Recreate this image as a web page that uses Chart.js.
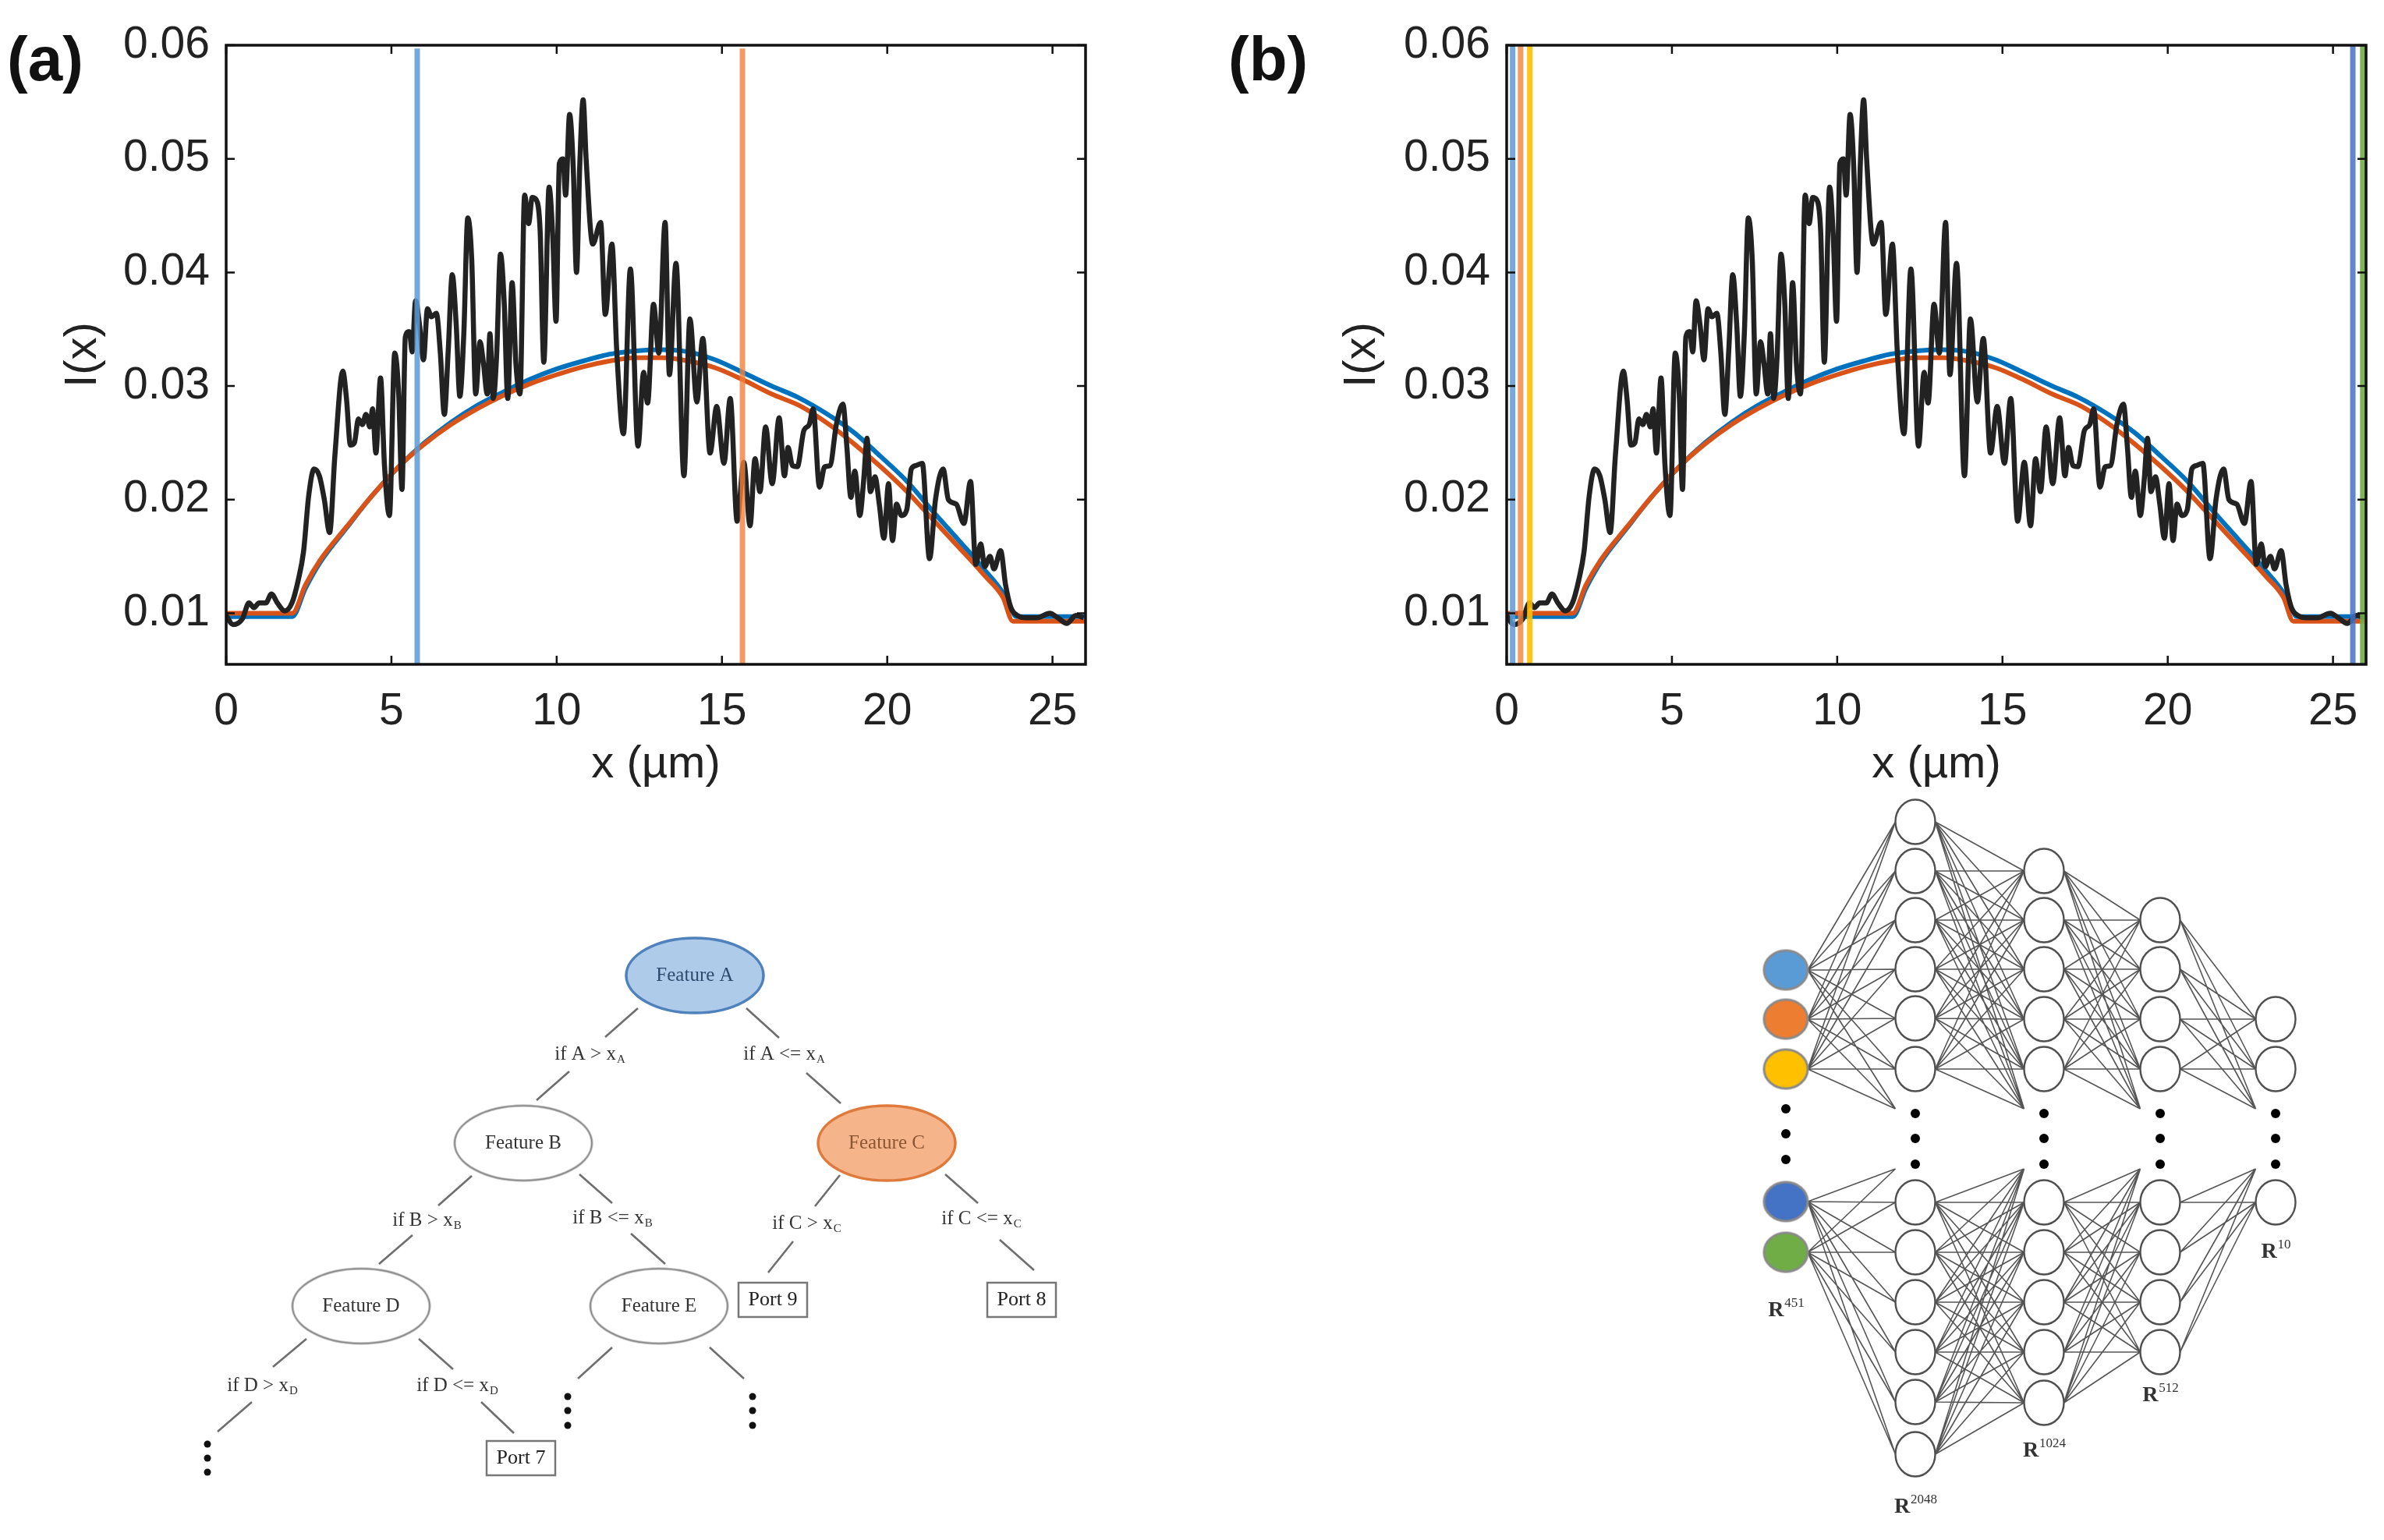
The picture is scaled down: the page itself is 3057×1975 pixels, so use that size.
<!DOCTYPE html>
<html>
<head>
<meta charset="utf-8">
<script src="https://cdn.jsdelivr.net/npm/chart.js@4.4.1/dist/chart.umd.min.js"></script>
<style>
body { margin: 0; background: #fff; width: 3057px; height: 1975px; position: relative; overflow: hidden; font-family: 'Liberation Sans', Arial, sans-serif; }
.wrap { position: absolute; }
.panel-label { position: absolute; font-weight: bold; font-size: 80px; line-height: 1; color: #111; }
</style>
</head>
<body>
<div class="panel-label" style="left:9px;top:36px">(a)</div>
<div class="panel-label" style="left:1575px;top:36px">(b)</div>
<div class="wrap" style="left:62px;top:0"><canvas id="chartA" width="1360" height="1020"></canvas></div>
<div class="wrap" style="left:1702px;top:0"><canvas id="chartB" width="1355" height="1020"></canvas></div>
<div class="wrap" style="left:0;top:1015px"><canvas id="diagram" width="3057" height="960"></canvas></div>
<script>
// ---- intensity profile I(x) ----
var xTicks = [0, 5, 10, 15, 20, 25];
var yTicks = [0.01, 0.02, 0.03, 0.04, 0.05, 0.06];

var measX = [0, 0.21, 0.49, 0.69, 0.84, 1.0, 1.2, 1.37, 1.55, 1.77, 1.99, 2.18, 2.34, 2.5, 2.66, 2.82, 2.97, 3.13, 3.29, 3.53,
  3.64, 3.76, 3.88, 4.0, 4.12, 4.23, 4.35, 4.43, 4.53, 4.67, 4.79, 4.94, 5.1, 5.22, 5.32, 5.42, 5.54, 5.63, 5.73, 5.85,
  5.97, 6.09, 6.21, 6.36, 6.48, 6.6, 6.72, 6.84, 6.96, 7.07, 7.19, 7.31, 7.43, 7.55, 7.68, 7.78, 7.9, 7.98, 8.08, 8.18,
  8.3, 8.41, 8.52, 8.65, 8.77, 8.89, 9.03, 9.15, 9.26, 9.38, 9.5, 9.61, 9.77, 9.88, 9.98, 10.08, 10.19, 10.27, 10.39, 10.5,
  10.6, 10.7, 10.8, 10.89, 11.09, 11.33, 11.47, 11.67, 11.82, 12.02, 12.23, 12.46, 12.63, 12.75, 12.93, 13.09, 13.28, 13.41, 13.61, 13.85,
  14.03, 14.24, 14.42, 14.64, 14.84, 15.06, 15.25, 15.46, 15.66, 15.85, 16.0, 16.15, 16.32, 16.52, 16.73, 16.89, 17.0,
  17.13, 17.28, 17.48, 17.64, 17.76, 17.95, 18.11, 18.27, 18.46, 18.66, 18.78, 18.9, 19.02, 19.17, 19.29, 19.39, 19.49, 19.63, 19.76, 19.9,
  20.04, 20.16, 20.28, 20.43, 20.59, 20.73, 20.87, 21.06, 21.28, 21.46, 21.69, 21.85, 22.09, 22.32, 22.52, 22.68, 22.83, 22.95, 23.11, 23.23,
  23.43, 23.58, 23.74, 23.94, 24.21, 24.53, 24.92, 25.16, 25.43, 25.71, 25.94];
var measY = [0.0098, 0.0090, 0.0095, 0.0109, 0.0105, 0.0109, 0.0109, 0.0117, 0.0109, 0.0102, 0.0109, 0.0129, 0.0154, 0.0204, 0.0227, 0.0221, 0.0200, 0.0171, 0.0239, 0.0313,
  0.0289, 0.0248, 0.0250, 0.0271, 0.0266, 0.0275, 0.0264, 0.0280, 0.0241, 0.0307, 0.0230, 0.0186, 0.0329, 0.0293, 0.0209, 0.0343, 0.0348, 0.0330, 0.0375, 0.0354,
  0.0323, 0.0368, 0.0361, 0.0364, 0.0329, 0.0275, 0.0332, 0.0398, 0.0354, 0.0291, 0.0346, 0.0448, 0.0411, 0.0293, 0.0339, 0.0321, 0.0293, 0.0346, 0.0289, 0.0325,
  0.0416, 0.0375, 0.0289, 0.0391, 0.0318, 0.0293, 0.0468, 0.0443, 0.0466, 0.0464, 0.0436, 0.0321, 0.0475, 0.0432, 0.0357, 0.0496, 0.0500, 0.0468, 0.0539, 0.0493,
  0.0400, 0.0496, 0.0552, 0.0500, 0.0425, 0.0444, 0.0363, 0.0425, 0.0329, 0.0258, 0.0403, 0.0247, 0.0312, 0.0285, 0.0372, 0.0329, 0.0444, 0.0310, 0.0408, 0.0221,
  0.0359, 0.0286, 0.0342, 0.0241, 0.0282, 0.0232, 0.0289, 0.0181, 0.0233, 0.0177, 0.0236, 0.0207, 0.0264, 0.0214, 0.0272, 0.0221, 0.0246,
  0.0230, 0.0229, 0.0261, 0.0266, 0.0280, 0.0211, 0.0229, 0.0230, 0.0266, 0.0284, 0.0246, 0.0202, 0.0225, 0.0186, 0.0218, 0.0254, 0.0207, 0.0220, 0.0196, 0.0166,
  0.0214, 0.0164, 0.0196, 0.0186, 0.0191, 0.0227, 0.0230, 0.0232, 0.0148, 0.0200, 0.0227, 0.0200, 0.0196, 0.0179, 0.0216, 0.0143, 0.0161, 0.0141, 0.0150, 0.0139,
  0.0155, 0.0125, 0.0105, 0.0098, 0.0096, 0.0096, 0.0100, 0.0096, 0.0091, 0.0098, 0.0096];

var fitBlueX = [0, 1, 2.0, 2.4, 2.85, 3.64, 4.43, 5.22, 6.0, 6.8, 7.6, 8.4, 9.2, 10.0, 10.8, 11.6, 12.4, 13.2, 14.0, 14.8,
  15.7, 16.5, 17.3, 18.2, 19.0, 19.8, 20.6, 21.4, 22.2, 22.95, 23.5, 23.75, 23.9, 26];
var fitBlueY = [0.0097, 0.0097, 0.0097, 0.0122, 0.0145, 0.0175, 0.0204, 0.0229, 0.0250, 0.0268, 0.0283, 0.0295, 0.0306, 0.0315, 0.0322, 0.0328, 0.0331, 0.0332, 0.0330, 0.0323,
  0.0311, 0.0300, 0.0290, 0.0275, 0.0259, 0.0238, 0.0216, 0.0189, 0.0163, 0.0138, 0.0118, 0.0104, 0.0097, 0.0097];
var fitOrangeX = [0, 1, 2.0, 2.4, 2.85, 3.64, 4.43, 5.22, 6.0, 6.8, 7.6, 8.4, 9.2, 10.0, 10.8, 11.6, 12.4, 13.2, 14.0, 14.8,
  15.6, 16.5, 17.4, 18.2, 19.0, 19.8, 20.6, 21.4, 22.2, 22.95, 23.5, 23.8, 26];
var fitOrangeY = [0.0100, 0.0100, 0.0100, 0.0125, 0.0147, 0.0176, 0.0204, 0.0229, 0.0249, 0.0266, 0.0280, 0.0292, 0.0302, 0.0310, 0.0317, 0.0322, 0.0325, 0.0325, 0.0322, 0.0316,
  0.0306, 0.0293, 0.0282, 0.0267, 0.0249, 0.0229, 0.0207, 0.0182, 0.0157, 0.0133, 0.0114, 0.0093, 0.0093];

// selected features (vertical markers)
var featuresA = [5.78, 15.62];
var featuresB = [0.18, 0.42, 0.7, 25.6, 25.9];
var colorsA = ['rgba(91,155,213,0.85)', 'rgba(240,130,60,0.8)'];
var colorsB = ['rgba(91,155,213,0.85)', 'rgba(240,130,60,0.8)', 'rgba(255,192,0,0.9)', 'rgba(68,114,196,0.85)', 'rgba(112,173,71,0.9)'];

Chart.defaults.font.family = "'Liberation Sans', Arial, sans-serif";
Chart.defaults.color = '#222';

function toPoints(xs, ys) {
    return xs.map(function(x, i) { return {x: x, y: ys[i]}; });
}

// MATLAB style box with inward ticks on all four sides
var boxTicks = {
    id: 'boxTicks',
    afterDatasetsDraw: function(chart) {
        var ctx = chart.ctx, a = chart.chartArea;
        var sx = chart.scales.x, sy = chart.scales.y;
        ctx.save();
        ctx.strokeStyle = '#111';
        ctx.lineWidth = 2.5;
        ctx.beginPath();
        sx.ticks.forEach(function(t) {
            var p = sx.getPixelForValue(t.value);
            ctx.moveTo(p, a.bottom); ctx.lineTo(p, a.bottom - 11);
            ctx.moveTo(p, a.top); ctx.lineTo(p, a.top + 11);
        });
        sy.ticks.forEach(function(t) {
            var p = sy.getPixelForValue(t.value);
            ctx.moveTo(a.left, p); ctx.lineTo(a.left + 11, p);
            ctx.moveTo(a.right, p); ctx.lineTo(a.right - 11, p);
        });
        ctx.stroke();
        ctx.lineWidth = 3.5;
        ctx.strokeRect(a.left, a.top, a.right - a.left, a.bottom - a.top);
        ctx.restore();
    }
};

function makeProfileChart(id, features, featureColors, featureTop, axisWidth, padRight) {
    var datasets = [];
    features.forEach(function(f, i) {
        datasets.push({
            data: [{x: f, y: featureTop}, {x: f, y: 0.0055}],
            borderColor: featureColors[i],
            borderWidth: 7,
            pointRadius: 0
        });
    });
    datasets.push({ data: toPoints(measX, measY), borderColor: '#222', borderWidth: 6.5, pointRadius: 0, cubicInterpolationMode: 'monotone' });
    datasets.push({ data: toPoints(fitOrangeX, fitOrangeY), borderColor: '#D95319', borderWidth: 6, pointRadius: 0, cubicInterpolationMode: 'monotone' });
    datasets.push({ data: toPoints(fitBlueX, fitBlueY), borderColor: '#0072BD', borderWidth: 6, pointRadius: 0, cubicInterpolationMode: 'monotone' });

    return new Chart(document.getElementById(id), {
        type: 'scatter',
        data: { datasets: datasets },
        options: {
            responsive: false,
            animation: false,
            events: [],
            showLine: true,
            layout: { autoPadding: false, padding: { top: 58, right: padRight, left: 0, bottom: 0 } },
            plugins: { legend: { display: false }, tooltip: { enabled: false } },
            scales: {
                x: {
                    type: 'linear', min: 0, max: 26,
                    grid: { display: false, drawTicks: false },
                    border: { display: false },
                    afterBuildTicks: function(s) { s.ticks = xTicks.map(function(v) { return {value: v}; }); },
                    afterFit: function(s) { s.height = 168; },
                    ticks: { font: { size: 57 }, color: '#222', padding: 27, maxRotation: 0, callback: function(v) { return v; } },
                    title: { display: true, text: 'x (µm)', font: { size: 58 }, color: '#222', padding: { top: 0, bottom: 4 } }
                },
                y: {
                    type: 'linear', min: 0.0055, max: 0.06,
                    grid: { display: false, drawTicks: false },
                    border: { display: false },
                    afterBuildTicks: function(s) { s.ticks = yTicks.map(function(v) { return {value: v}; }); },
                    afterFit: function(s) { s.width = axisWidth; },
                    ticks: { font: { size: 57 }, color: '#222', padding: 21, callback: function(v) { return v.toFixed(2); } },
                    title: { display: true, text: 'I(x)', font: { size: 58 }, color: '#222', padding: { top: 10, bottom: 0 } }
                }
            }
        },
        plugins: [boxTicks]
    });
}

makeProfileChart('chartA', featuresA, colorsA, 0.0597, 228, 30);
makeProfileChart('chartB', featuresB, colorsB, 0.06, 230, 23);

// ---- decision tree ----
var treeNodeText = ['Feature A', 'Feature B', 'Feature C', 'Feature D', 'Feature E'];
var treeNodeX = [891, 671, 1137, 463, 845];
var treeNodeY = [1251, 1466, 1466, 1675, 1675];
var treeNodeFill = ['#AECBEA', '#ffffff', '#F5B489', '#ffffff', '#ffffff'];
var treeNodeStroke = ['#4F81BD', '#888888', '#E07A3C', '#888888', '#888888'];
var treeNodeInk = ['#2D4B6E', '#333333', '#8A5634', '#333333', '#333333'];

var treePortText = ['Port 9', 'Port 8', 'Port 7'];
var treePortX = [991, 1310, 668];
var treePortY = [1667, 1667, 1870];

var treeRuleText = ['if A > x', 'if A <= x', 'if B > x', 'if B <= x', 'if C > x', 'if C <= x', 'if D > x', 'if D <= x'];
var treeRuleSub = ['A', 'A', 'B', 'B', 'C', 'C', 'D', 'D'];
var treeRuleX = [756, 1005, 547, 785, 1034, 1258, 336, 586];
var treeRuleY = [1352, 1352, 1565, 1562, 1569, 1563, 1777, 1777];

var treeEdges = [
    [818, 1293, 776, 1330], [730, 1374, 688, 1411], [957, 1293, 999, 1331], [1034, 1376, 1078, 1415],
    [605, 1508, 562, 1546], [529, 1584, 486, 1621], [743, 1506, 785, 1543], [809, 1582, 853, 1621],
    [1077, 1507, 1045, 1547], [1017, 1592, 985, 1632], [1212, 1506, 1254, 1543], [1282, 1590, 1326, 1629],
    [393, 1717, 350, 1753], [323, 1798, 279, 1836], [537, 1717, 581, 1756], [617, 1798, 659, 1838],
    [785, 1728, 741, 1768], [910, 1728, 954, 1768]
];
var treeDotX = [266, 266, 266, 728, 728, 728, 965, 965, 965];
var treeDotY = [1852, 1870, 1888, 1791, 1809, 1828, 1791, 1809, 1828];

// ---- neural network ----
var nnLayerX = [2290, 2456, 2621, 2770, 2918];
var nnUpper = [[1244, 1307, 1371], [1054, 1117, 1180, 1243, 1306, 1371], [1117, 1180, 1243, 1307, 1371], [1180, 1243, 1307, 1371], [1307, 1371]];
var nnLower = [[1541, 1606], [1542, 1606, 1670, 1734, 1798, 1865], [1542, 1606, 1670, 1734, 1799], [1542, 1606, 1670, 1734], [1542]];
var nnDotY = [[1422, 1454, 1487], [1428, 1460, 1493], [1428, 1460, 1493], [1428, 1460, 1493], [1428, 1460, 1493]];
var nnInputFill = ['#5B9BD5', '#ED7D31', '#FFC000', '#4472C4', '#70AD47'];
var nnDim = ['451', '2048', '1024', '512', '10'];
var nnDimY = [1681, 1933, 1861, 1790, 1606];

function ellipseImage(rx, ry, fill, stroke, lw) {
    var c = document.createElement('canvas');
    c.width = Math.ceil(2 * rx + lw + 2);
    c.height = Math.ceil(2 * ry + lw + 2);
    var g = c.getContext('2d');
    g.beginPath();
    g.ellipse(c.width / 2, c.height / 2, rx, ry, 0, 0, Math.PI * 2);
    g.fillStyle = fill;
    g.fill();
    g.lineWidth = lw;
    g.strokeStyle = stroke;
    g.stroke();
    return c;
}
function boxImage(w, h) {
    var c = document.createElement('canvas');
    c.width = w + 4; c.height = h + 4;
    var g = c.getContext('2d');
    g.fillStyle = '#fff';
    g.fillRect(2, 2, w, h);
    g.lineWidth = 2.5;
    g.strokeStyle = '#777';
    g.strokeRect(2, 2, w, h);
    return c;
}
function segmentsToPoints(segs) {
    var pts = [];
    segs.forEach(function(s) {
        pts.push({x: s[0], y: s[1]}, {x: s[2], y: s[3]}, {x: s[2], y: null});
    });
    return pts;
}

// edges between consecutive layers, upper block to upper block, lower to lower (+ links into the ellipsis)
var nnSegs = [];
for (var L = 0; L < nnLayerX.length - 1; L++) {
    var r0 = L === 0 ? 28 : 25.5;
    var x0 = nnLayerX[L] + r0, x1 = nnLayerX[L + 1] - 25.5;
    nnUpper[L].forEach(function(ya) {
        nnUpper[L + 1].concat([nnDotY[L + 1][0] - 6]).forEach(function(yb) { nnSegs.push([x0, ya, x1, yb]); });
    });
    nnLower[L].forEach(function(ya) {
        nnLower[L + 1].concat([nnDotY[L + 1][2] + 6]).forEach(function(yb) { nnSegs.push([x0, ya, x1, yb]); });
    });
}
var nnNodePts = [], nnDotPts = [];
for (var k = 1; k < nnLayerX.length; k++) {
    nnUpper[k].concat(nnLower[k]).forEach(function(y) { nnNodePts.push({x: nnLayerX[k], y: y}); });
}
nnLayerX.forEach(function(x, k) {
    nnDotY[k].forEach(function(y) { nnDotPts.push({x: x, y: y}); });
});
var nnInputPts = nnUpper[0].concat(nnLower[0]).map(function(y) { return {x: nnLayerX[0], y: y}; });

var treeNodeImgs = treeNodeFill.map(function(f, i) { return ellipseImage(88, 48, f, treeNodeStroke[i], i === 0 || i === 2 ? 3.5 : 2.5); });
var portImg = boxImage(88, 44);
var inputImgs = nnInputFill.map(function(f) { return ellipseImage(28, 25, f, '#8a8a8a', 3); });
var hiddenImg = ellipseImage(25.5, 28.5, '#ffffff', '#505050', 2.4);

var diagramText = {
    id: 'diagramText',
    afterDatasetsDraw: function(chart) {
        var ctx = chart.ctx, sx = chart.scales.x, sy = chart.scales.y;
        ctx.save();
        ctx.textBaseline = 'middle';
        ctx.textAlign = 'center';
        ctx.font = "25px 'Liberation Serif'";
        treeNodeText.forEach(function(t, i) {
            ctx.fillStyle = treeNodeInk[i];
            ctx.fillText(t, sx.getPixelForValue(treeNodeX[i]), sy.getPixelForValue(treeNodeY[i]));
        });
        ctx.font = "26px 'Liberation Serif'";
        ctx.fillStyle = '#222';
        treePortText.forEach(function(t, i) {
            ctx.fillText(t, sx.getPixelForValue(treePortX[i]), sy.getPixelForValue(treePortY[i]));
        });
        ctx.textAlign = 'left';
        treeRuleText.forEach(function(t, i) {
            ctx.font = "25px 'Liberation Serif'";
            var w1 = ctx.measureText(t).width;
            ctx.font = "15px 'Liberation Serif'";
            var w2 = ctx.measureText(treeRuleSub[i]).width;
            var x = sx.getPixelForValue(treeRuleX[i]) - (w1 + w2) / 2;
            var y = sy.getPixelForValue(treeRuleY[i]);
            ctx.fillStyle = '#333';
            ctx.font = "25px 'Liberation Serif'";
            ctx.fillText(t, x, y);
            ctx.font = "15px 'Liberation Serif'";
            ctx.fillText(treeRuleSub[i], x + w1 + 1, y + 7);
        });
        nnDim.forEach(function(d, i) {
            ctx.font = "bold 28px 'Liberation Serif'";
            var w1 = ctx.measureText('R').width;
            ctx.font = "17px 'Liberation Serif'";
            var w2 = ctx.measureText(d).width;
            var x = sx.getPixelForValue(nnLayerX[i]) - (w1 + w2) / 2;
            var y = sy.getPixelForValue(nnDimY[i]);
            ctx.fillStyle = '#333';
            ctx.font = "bold 28px 'Liberation Serif'";
            ctx.fillText('R', x, y);
            ctx.font = "17px 'Liberation Serif'";
            ctx.fillText(d, x + w1 + 1, y - 9);
        });
        ctx.restore();
    }
};

new Chart(document.getElementById('diagram'), {
    type: 'scatter',
    data: {
        datasets: [
            { data: toPoints(treeNodeX, treeNodeY), pointStyle: treeNodeImgs, pointRadius: 5 },
            { data: toPoints(treePortX, treePortY), pointStyle: portImg, pointRadius: 5 },
            { data: toPoints(treeDotX, treeDotY), pointStyle: 'circle', pointRadius: 4.5, backgroundColor: '#111', borderWidth: 0 },
            { data: segmentsToPoints(treeEdges), showLine: true, spanGaps: false, borderColor: '#6e6e6e', borderWidth: 2.6, pointRadius: 0 },
            { data: nnInputPts, pointStyle: inputImgs, pointRadius: 5 },
            { data: nnNodePts, pointStyle: hiddenImg, pointRadius: 5 },
            { data: nnDotPts, pointStyle: 'circle', pointRadius: 6, backgroundColor: '#000', borderWidth: 0 },
            { data: segmentsToPoints(nnSegs), showLine: true, spanGaps: false, borderColor: 'rgba(55,55,55,0.85)', borderWidth: 1.6, pointRadius: 0 }
        ]
    },
    options: {
        responsive: false,
        animation: false,
        events: [],
        layout: { autoPadding: false, padding: 0 },
        plugins: { legend: { display: false }, tooltip: { enabled: false } },
        scales: {
            x: { type: 'linear', display: false, min: 0, max: 3057 },
            y: { type: 'linear', display: false, min: 1015, max: 1975, reverse: true }
        }
    },
    plugins: [diagramText]
});
</script>
</body>
</html>
